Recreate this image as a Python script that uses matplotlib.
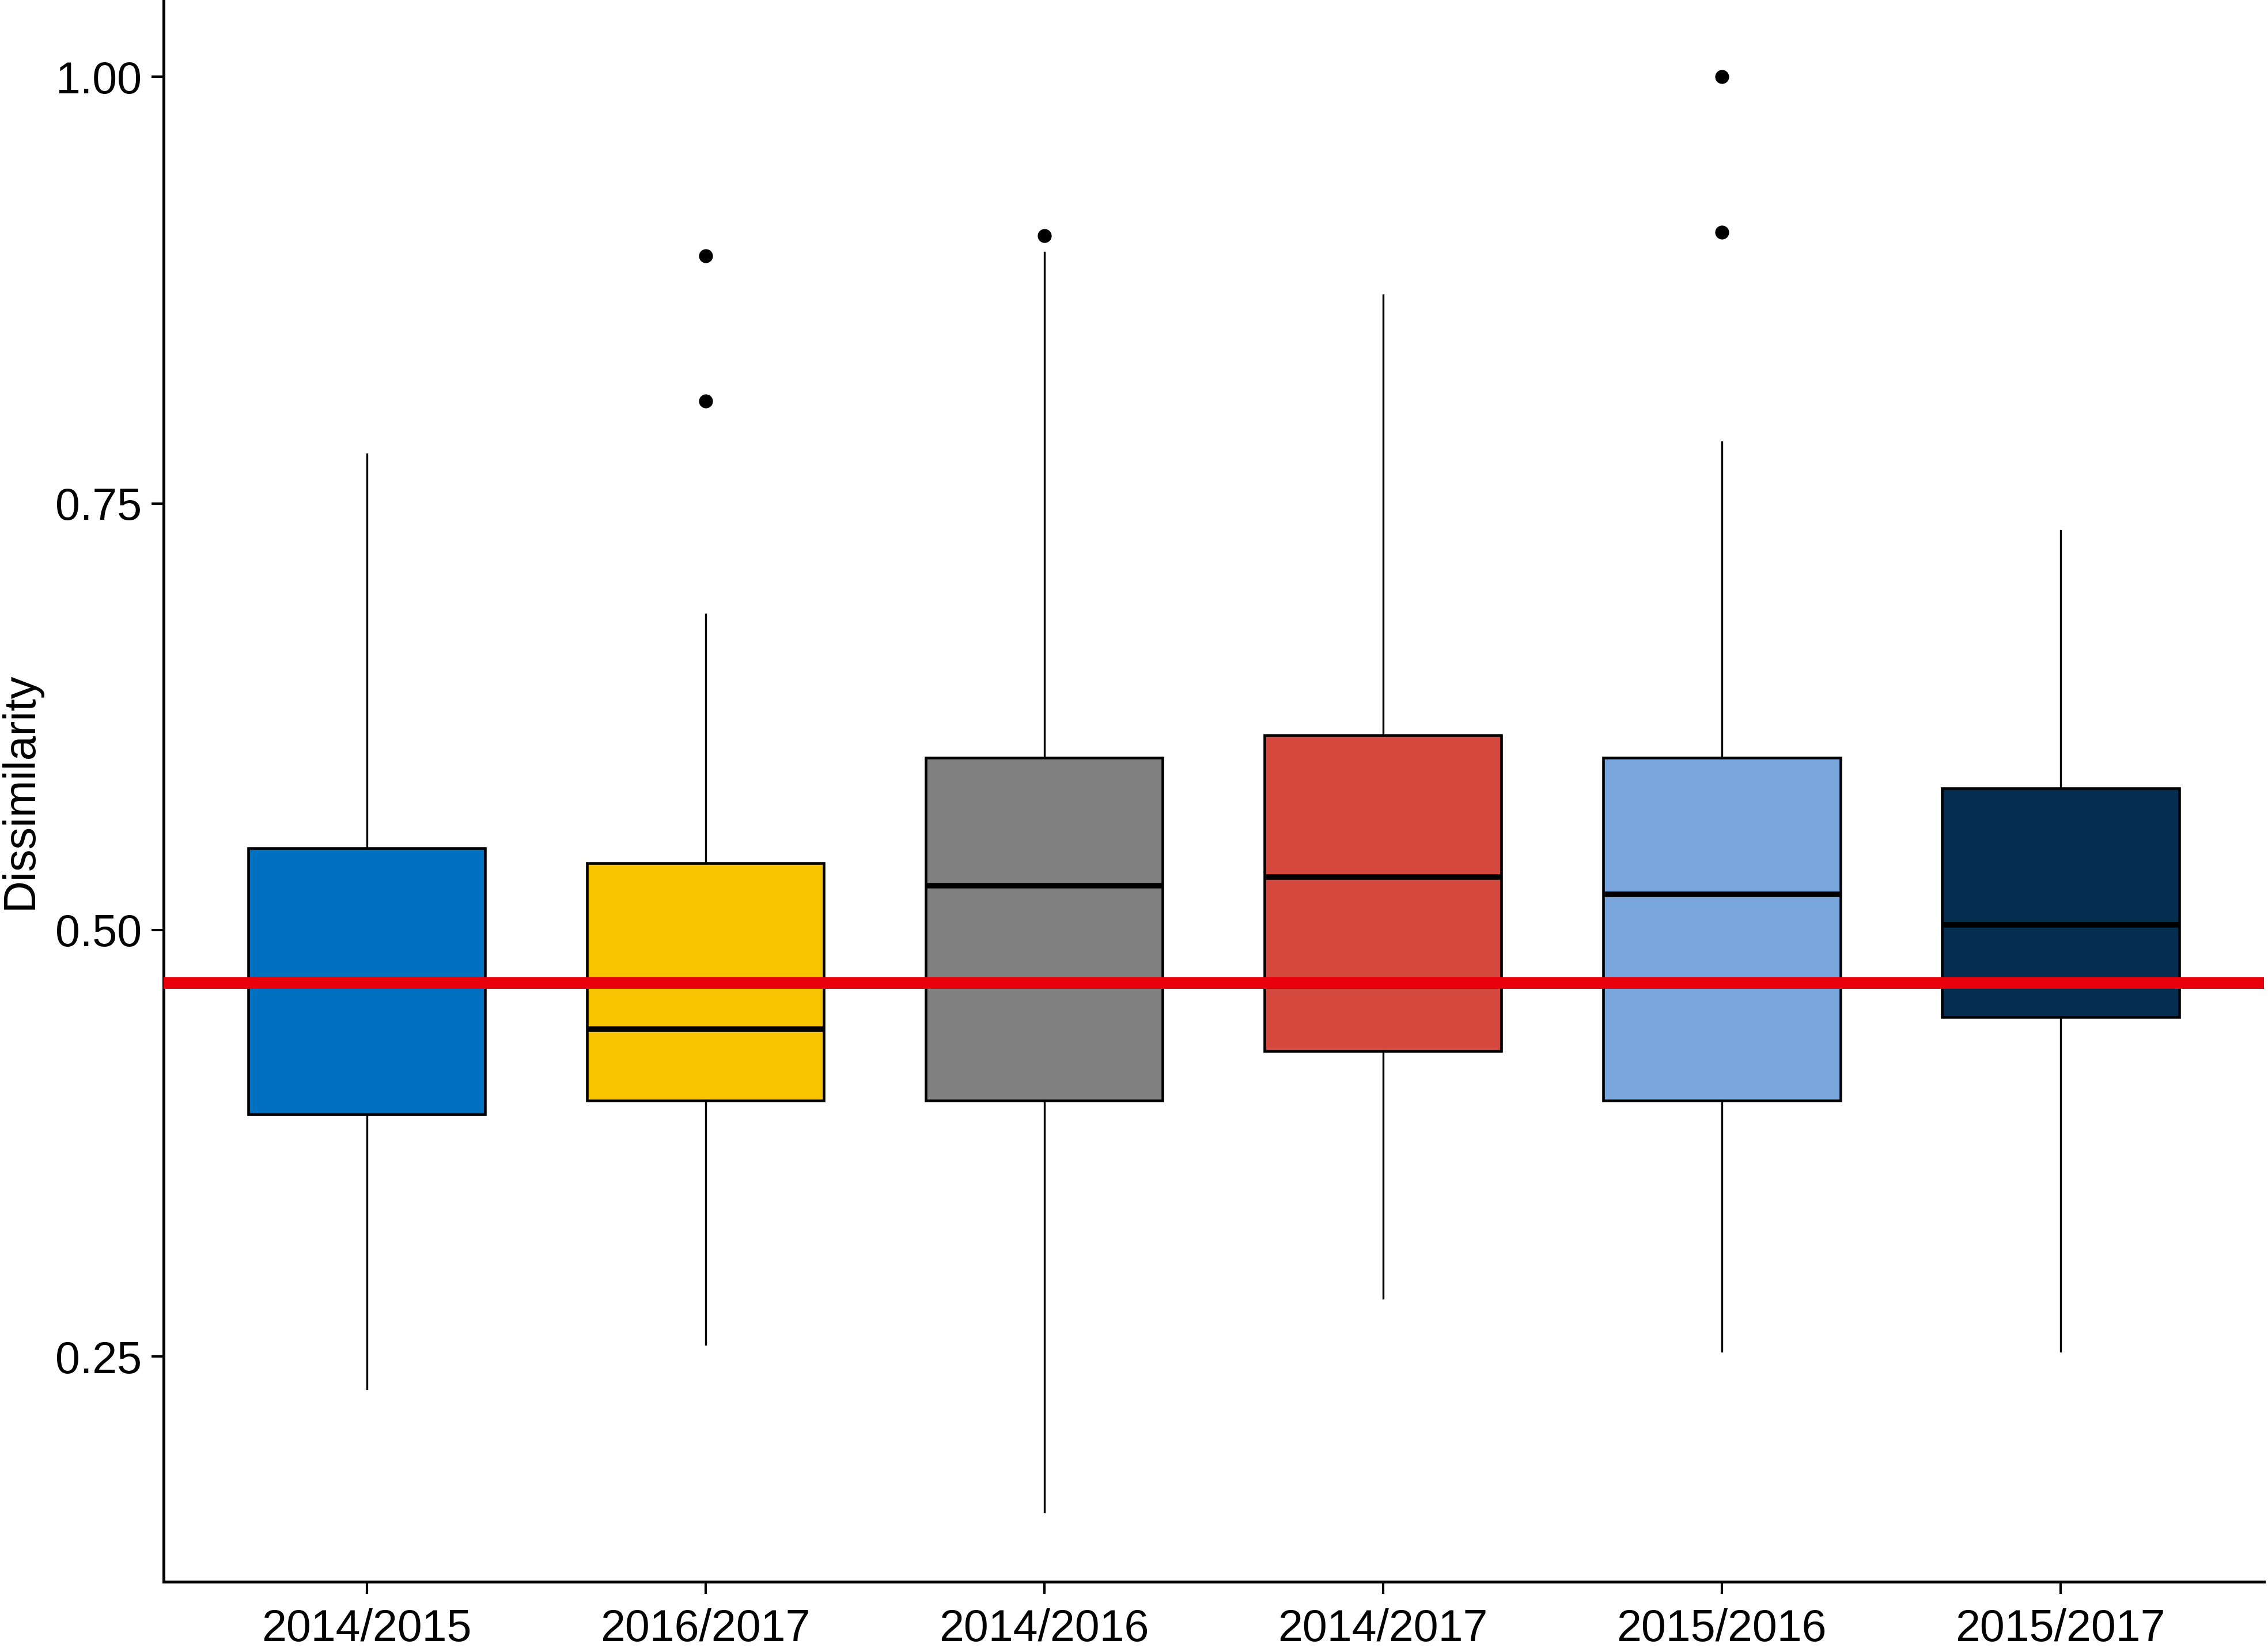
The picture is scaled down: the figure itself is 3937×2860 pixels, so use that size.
import matplotlib
matplotlib.use("Agg")
import matplotlib.pyplot as plt

plt.rcParams['font.family'] = ['Liberation Sans', 'DejaVu Sans']

# values
groups = ["2014/2015", "2016/2017", "2014/2016", "2014/2017", "2015/2016", "2015/2017"]
q1 = [0.392, 0.400, 0.400, 0.429, 0.400, 0.449]
med = [0.468, 0.442, 0.526, 0.531, 0.521, 0.503]
q3 = [0.548, 0.539, 0.601, 0.614, 0.601, 0.583]
whislo = [0.231, 0.257, 0.159, 0.284, 0.253, 0.253]
whishi = [0.779, 0.685, 0.897, 0.872, 0.786, 0.734]
outliers = [[], [0.810, 0.895], [0.907], [], [0.909, 1.000], []]
colors = ["#0070C0", "#F8C300", "#808080", "#D5483E", "#7AA6DE", "#052D4F"]
ref_line = 0.469

stats = []
for i in range(len(groups)):
    stats.append(dict(label=groups[i], q1=q1[i], med=med[i], q3=q3[i],
                      whislo=whislo[i], whishi=whishi[i], fliers=outliers[i]))

fig = plt.figure(figsize=(3937 / 300, 2860 / 300), dpi=300)
ax = fig.add_axes([0.0721, 0.0402, 0.926, 0.9598])

bp = ax.bxp(stats, positions=range(1, 7), widths=0.7, patch_artist=True,
            showcaps=False,
            boxprops=dict(linewidth=1.1, edgecolor="black"),
            medianprops=dict(color="black", linewidth=2.3),
            whiskerprops=dict(color="black", linewidth=0.8),
            flierprops=dict(marker="o", markerfacecolor="black",
                            markeredgecolor="black", markersize=4.8))
for patch, c in zip(bp["boxes"], colors):
    patch.set_facecolor(c)

ax.axhline(ref_line, color="#E8000B", linewidth=4.8, zorder=5)

ax.set_xlim(0.4, 6.6)
ax.set_ylim(0.118, 1.045)
ax.set_yticks([0.25, 0.50, 0.75, 1.00])
ax.set_yticklabels(["0.25", "0.50", "0.75", "1.00"])
ax.set_xticks(range(1, 7))
ax.set_xticklabels(groups)
ax.tick_params(labelsize=18.5, length=5, width=1.0, colors="black")
ax.tick_params(axis="x", pad=6)
ax.tick_params(axis="y", pad=4)
ax.set_ylabel("Dissimilarity", fontsize=18.5, labelpad=6)

for s in ["top", "right"]:
    ax.spines[s].set_visible(False)
for s in ["left", "bottom"]:
    ax.spines[s].set_linewidth(1.2)

fig.savefig("out.png", dpi=300)
